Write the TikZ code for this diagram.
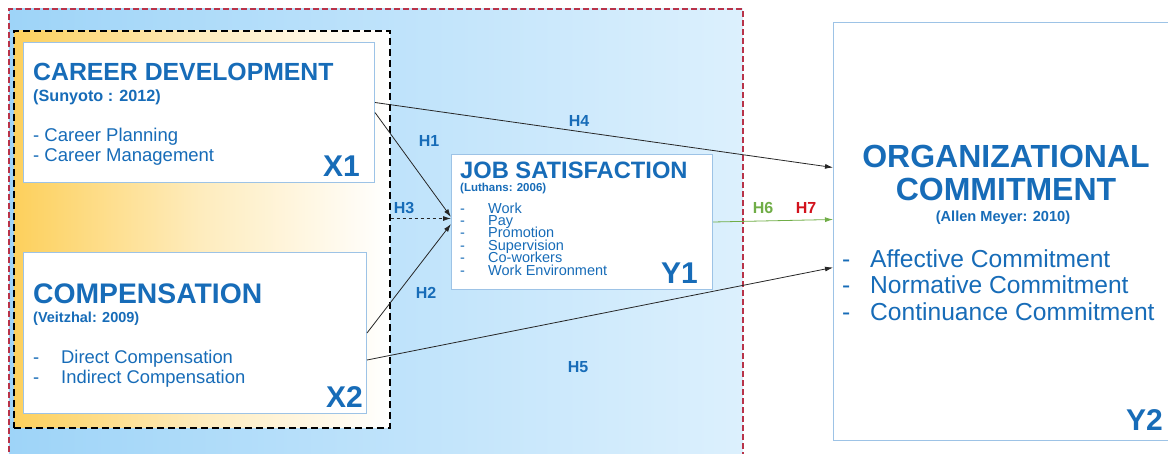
\documentclass[tikz,border=0pt]{standalone}
\usepackage{fontspec}
\setmainfont{Liberation Sans}
\usetikzlibrary{arrows.meta}

\definecolor{txtblue}{HTML}{176CB8}
\definecolor{boxline}{HTML}{9DC3E6}
\definecolor{bgleft}{HTML}{9ED4F8}
\definecolor{bgright}{HTML}{DCF0FD}
\definecolor{goldleft}{HTML}{FDD05C}
\definecolor{hgreen}{HTML}{70AD47}
\definecolor{hred}{HTML}{D2121C}
\definecolor{framered}{HTML}{B83349}

\newcommand\fsize[1]{\fontsize{#1}{#1}\selectfont}

\tikzset{
    modelframe/.style={draw=framered, line width=1.5pt, dash pattern=on 6pt off 3pt,
        left color=bgleft, right color=bgright, inner sep=0pt},
    groupframe/.style={draw=black, line width=1.5pt, dash pattern=on 7pt off 4pt,
        left color=goldleft, right color=white, middle color=goldleft!40!white, inner sep=0pt},
    varbox/.style={draw=boxline, line width=1pt, fill=white, inner sep=0pt},
    txt/.style={text=txtblue, inner sep=0pt, anchor=base west},
    tag/.style={text=txtblue, inner sep=0pt, anchor=base east, font=\fsize{30}\bfseries},
    hyp/.style={text=txtblue, inner sep=0pt, font=\fsize{16}\bfseries},
    link/.style={draw=black!85, line width=0.8pt, -{Latex[length=8pt,width=5pt]}},
}

\begin{document}
\begin{tikzpicture}[x=1pt, y=-1pt]
    \useasboundingbox (0,0) rectangle (1168,453);
    \clip (0,0) rectangle (1168,453);

    % Frames
    \node[modelframe, minimum width=734pt, minimum height=480pt, anchor=north west] (model) at (8,8) {};
    \node[groupframe, minimum width=376pt, minimum height=397pt, anchor=north west] (xgroup) at (13,30) {};

    % Boxes
    \node[varbox, minimum width=351pt, minimum height=140pt, anchor=north west] (x1) at (23,42) {};
    \node[varbox, minimum width=343pt, minimum height=161pt, anchor=north west] (x2) at (23,252) {};
    \node[varbox, minimum width=261pt, minimum height=135pt, anchor=north west] (y1) at (451,154) {};
    \node[varbox, minimum width=345pt, minimum height=418pt, anchor=north west] (y2) at (833,22) {};

    % Career development
    \node[txt, font=\fsize{24.8}\bfseries] (x1title) at (33,80) {CAREER DEVELOPMENT};
    \node[txt, font=\fsize{16.2}\bfseries] (x1src) at (33,101) {(Sunyoto : 2012)};
    \node[txt, font=\fsize{18.5}] (x1a) at (33,141) {- Career Planning};
    \node[txt, font=\fsize{18.5}] (x1b) at (33,161) {- Career Management};
    \node[tag] (x1tag) at (360,176) {X1};

    % Compensation
    \node[txt, font=\fsize{28.3}\bfseries] (x2title) at (33,303) {COMPENSATION};
    \node[txt, font=\fsize{14.5}\bfseries] (x2src) at (33,322) {(Veitzhal: 2009)};
    \node[txt, font=\fsize{18.4}] (x2a) at (33,363) {\makebox[28pt][l]{-}Direct Compensation};
    \node[txt, font=\fsize{18.4}] (x2b) at (33,383) {\makebox[28pt][l]{-}Indirect Compensation};
    \node[tag] (x2tag) at (363,407) {X2};

    % Job satisfaction
    \node[txt, font=\fsize{23.7}\bfseries] (y1title) at (460,178) {JOB SATISFACTION};
    \node[txt, font=\fsize{11.5}\bfseries] (y1src) at (460,191) {(Luthans: 2006)};
    \foreach \aspect [count=\i from 0] in {Work, Pay, Promotion, Supervision, Co-workers, Work Environment}
        \node[txt, font=\fsize{14.5}] (y1i\i) at (460,{213+12.4*\i}) {\makebox[28pt][l]{-}\aspect};
    \node[tag] (y1tag) at (698,283) {Y1};

    % Organizational commitment
    \node[txt, anchor=base, font=\fsize{32}\bfseries] (y2title) at (1006,167) {ORGANIZATIONAL};
    \node[txt, anchor=base, font=\fsize{32}\bfseries] (y2title2) at (1006,200) {COMMITMENT};
    \node[txt, anchor=base, font=\fsize{14.6}\bfseries] (y2src) at (1003,221) {(Allen Meyer: 2010)};
    \node[txt, font=\fsize{24.6}] (y2a) at (842,267) {\makebox[28pt][l]{-}Affective Commitment};
    \node[txt, font=\fsize{24.6}] (y2b) at (842,293) {\makebox[28pt][l]{-}Normative Commitment};
    \node[txt, font=\fsize{24.6}] (y2c) at (842,320) {\makebox[28pt][l]{-}Continuance Commitment};
    \node[tag] (y2tag) at (1163,430) {Y2};

    % Lines
    \coordinate (h3in) at ([yshift=3.5pt]y1.west);
    \draw[link] ([yshift=10pt]x1.east) -- ([yshift=64pt]y2.west);
    \draw[link] (x1.east) -- ([yshift=5pt]y1.west);
    \draw[link, dashed] (xgroup.east |- h3in) -- (h3in);
    \draw[link] (x2.east) -- ([yshift=-2pt]y1.west);
    \draw[link] ([yshift=-27pt]x2.east) -- ([yshift=-36pt]y2.west);
    \draw[link, draw=hgreen] (y1.east) -- ([yshift=12pt]y2.west);

    % Hypotheses
    \node[hyp] (h1) at (429,141) {H1};
    \node[hyp] (h2) at (426,293) {H2};
    \node[hyp] (h3) at (404,208) {H3};
    \node[hyp] (h4) at (579,121) {H4};
    \node[hyp] (h5) at (578,367) {H5};
    \node[hyp, text=hgreen] (h6) at (763,208) {H6};
    \node[hyp, text=hred] (h7) at (806,208) {H7};
\end{tikzpicture}
\end{document}
